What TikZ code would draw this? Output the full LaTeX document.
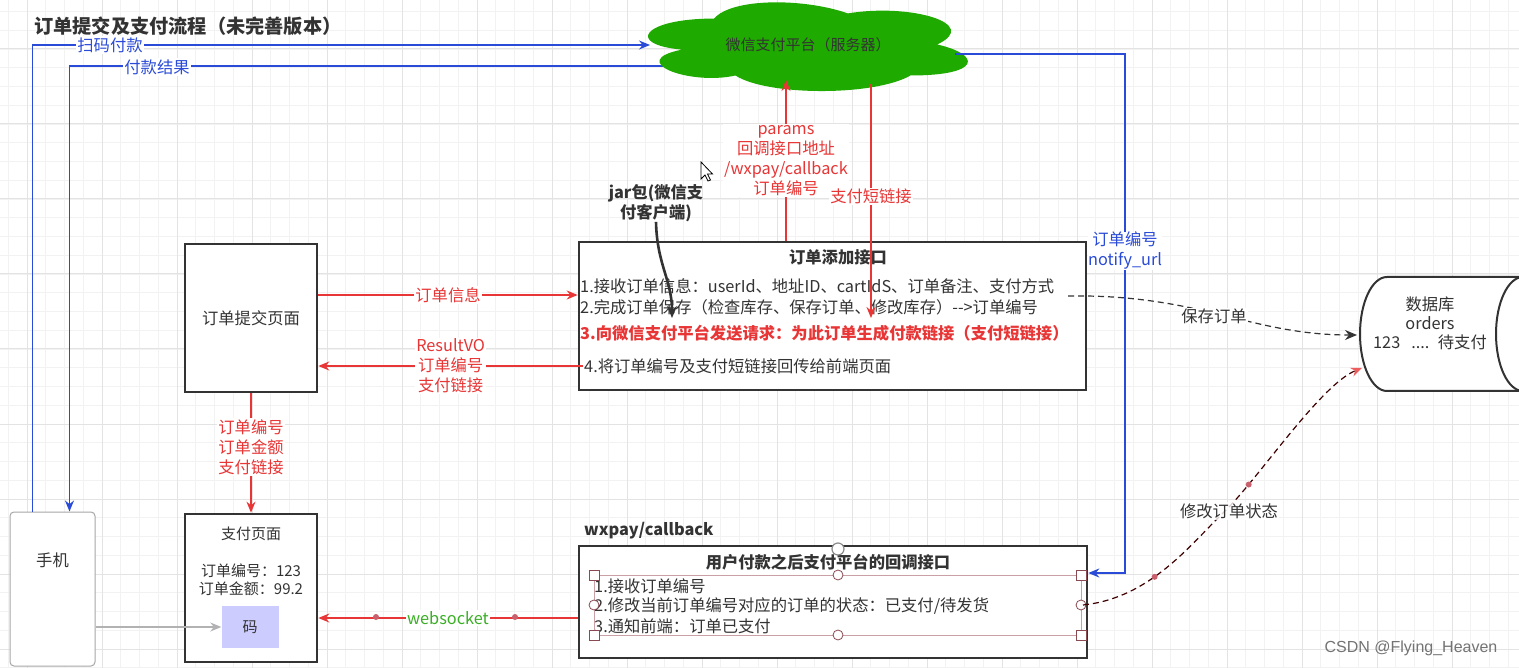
\documentclass[tikz,border=0pt]{standalone}
\usepackage{fontspec}
\setmainfont{Noto Sans CJK SC}
\newfontfamily\wmfont{Liberation Sans}
\usetikzlibrary{arrows.meta,calc}
\definecolor{txt}{HTML}{333333}
\definecolor{rd}{HTML}{E83535}
\definecolor{bl}{HTML}{2A4BD7}
\definecolor{grn}{HTML}{1FAA00}
\definecolor{wsg}{HTML}{3AAF25}
\definecolor{selc}{HTML}{C8A0A6}
\definecolor{hand}{HTML}{8A4A52}
\definecolor{dotc}{HTML}{C8606E}
\definecolor{lav}{HTML}{CCCCFF}
\tikzset{
  f16/.style={font=\fontsize{16.3pt}{20pt}\selectfont},
  f15/.style={font=\fontsize{15pt}{19pt}\selectfont},
  fb16/.style={font=\fontsize{16.3pt}{20pt}\selectfont\bfseries},
  box/.style={draw=txt, line width=2.6pt, fill=white, inner sep=0pt},
  ar/.style={-{Stealth[length=11pt,width=9pt]}},
  rl/.style={draw=rd, line width=1.4pt, ar},
  blu/.style={draw=bl, line width=1.4pt, ar},
  lab/.style={fill=white, inner sep=1pt, align=center, f16},
  txl/.style={anchor=west, inner sep=1pt, text=txt, f16},
  minorg/.style={draw=black!5, line width=0.8pt},
  majorg/.style={draw=black!11, line width=1pt},
}
\begin{document}
\begin{tikzpicture}[x=1pt,y=-1pt]
\useasboundingbox (0,0) rectangle (1519,668);
\fill[white] (0,0) rectangle (1519,668);
% grid
\foreach \i in {0,...,80} \draw[minorg] ({8.25+18.75*\i},0) -- ++(0,668);
\foreach \i in {0,...,35} \draw[minorg] (0,{11.5+18.75*\i}) -- ++(1519,0);
\foreach \i in {0,...,19} \draw[majorg] ({27+75*\i},0) -- ++(0,668);
\foreach \i in {0,...,8} \draw[majorg] (0,{49+75*\i}) -- ++(1519,0);

% title
\node[anchor=west, inner sep=0, text=txt, font=\fontsize{19.2pt}{23pt}\selectfont\bfseries] (title) at (34,26) {订单提交及支付流程（未完善版本）};

% cloud anchor points
\coordinate (c1) at (650,45);
\coordinate (c2) at (700,66);
\coordinate (c3) at (955,54);
\coordinate (cpar) at (786,80);
\coordinate (cshort) at (871,84);

% phone
\node[draw=black!35, line width=1pt, rounded corners=4pt, fill=white, minimum width=85pt, minimum height=154pt, inner sep=0pt] (phone) at (52.5,589) {};
\node[text=txt, f16] (phonet) at (52.5,560) {手机};

% blue connectors (under the cloud)
\coordinate (cbarr) at (1125,573);
\draw[blu] ([xshift=23pt]phone.north west) |- (c1);
\draw[blu] (c2) -| ([xshift=60pt]phone.north west);

% cloud
\begin{scope}[shift={(624.8,-7.3)}, x=357pt, y=-103.5pt]
\fill[grn] (0.25,0.25) .. controls (0.05,0.25) and (0,0.5) .. (0.16,0.55)
  .. controls (0,0.66) and (0.18,0.9) .. (0.31,0.8)
  .. controls (0.4,1) and (0.7,1) .. (0.8,0.8)
  .. controls (1,0.8) and (1,0.6) .. (0.875,0.5)
  .. controls (1,0.3) and (0.8,0.1) .. (0.625,0.2)
  .. controls (0.5,0.05) and (0.3,0.05) .. (0.25,0.25) -- cycle;
\end{scope}
\node[text=txt, f15, inner sep=0] (cloud) at (808,45) {微信支付平台（服务器）};

% order submit page
\node[box, minimum width=132pt, minimum height=148pt, text=txt, f16] (sub) at (251,318) {订单提交页面};

% pay page
\node[box, minimum width=132pt, minimum height=148pt] (pay) at (251,588) {};
\node[text=txt, f15] (payt) at (251,534) {支付页面};
\node[text=txt, f15, align=center] (payinfo) at (251,580) {订单编号：123\\[-1pt]订单金额：99.2};
\node[fill=lav, minimum width=57pt, minimum height=42pt, inner sep=0pt, text=txt, f15] (qr) at (250,627) {码};

% order add interface
\node[box, minimum width=507pt, minimum height=148pt] (api) at (832.5,316) {};
\node[text=txt, fb16, inner sep=0] (apit) at (838,257) {订单添加接口};
\node[txl] (a1) at (579,286) {1.接收订单信息：userId、地址ID、cartIdS、订单备注、支付方式};
\node[txl] (a2) at (579,307) {2.完成订单保存（检查库存、保存订单、修改库存）-{}->订单编号};
\node[txl, text=rd, fb16] (a3) at (579,333) {3.向微信支付平台发送请求：为此订单生成付款链接（支付短链接）};
\node[txl] (a4) at (583,366) {4.将订单编号及支付短链接回传给前端页面};

% callback interface
\node[anchor=west, inner sep=0, text=txt, fb16] (cbname) at (584,531) {wxpay/callback};
\node[box, minimum width=508pt, minimum height=112pt] (cb) at (833,602) {};
\node[text=txt, fb16, inner sep=0] (cbt) at (828,562) {用户付款之后支付平台的回调接口};
\node[txl] (b1) at (593,586) {1.接收订单编号};
\node[txl] (b2) at (593,606) {2.修改当前订单编号对应的订单的状态：已支付/待发货};
\node[txl] (b3) at (593,626) {3.通知前端：订单已支付};
% selection handles
\draw[selc, line width=1pt] (594,575) rectangle (1081,635);
\foreach \p in {(594,575),(1081,575),(594,635),(1081,635)}
  \draw[hand, fill=white, line width=0.8pt] \p ++(-5,-5) rectangle ++(10,10);
\foreach \p in {(838,575),(838,635),(594,605),(1081,605)}
  \draw[hand, fill=white, line width=0.8pt] \p circle (5pt);
\draw[black!45, fill=white, line width=1.2pt] (838,549) circle (6pt);

% database
\draw[txt, line width=2pt, fill=white]
  (1540,277) -- (1387,277) .. controls (1372.1,277) and (1360,302.5) .. (1360,334)
  .. controls (1360,365.5) and (1372.1,391) .. (1387,391) -- (1540,391);
\draw[txt, line width=2pt, fill=white] (1523,334) ellipse [x radius=27pt, y radius=57pt];
\node[text=txt, f16, align=center] (db) at (1430,323) {数据库\\[-1pt]orders\\[-1pt]123 \ \ .... \ 待支付};
\coordinate (dbin1) at (1357,335);
\coordinate (dbin2) at (1362,368);

% notify_url connector
\draw[blu] (c3) -| (cbarr) -- (cb.east |- cbarr);
\node[lab, text=bl] (lscan) at (110,45) {扫码付款};
\node[lab, text=bl] (lres) at (157,67) {付款结果};
\node[lab, text=bl, inner sep=0.5pt] (lnot) at (1125,251) {订单编号\\notify\_url};

% red connectors
\draw[rl] (sub.east |- 0,295) -- node[lab, text=rd] (linfo) {订单信息} (api.west |- 0,295);
\draw[rl] (a4.west) -- node[lab, text=rd] (lres2) {ResultVO\\订单编号\\支付链接} (sub.east |- a4.west);
\draw[rl] (sub.south) -- node[lab, text=rd, pos=0.45] (lpay) {订单编号\\订单金额\\支付链接} (pay.north);
\draw[rl] (api.north -| cpar) -- node[lab, text=rd, pos=0.5] (lpar) {params\\回调接口地址\\/wxpay/callback\\订单编号} (cpar);
\coordinate (shortend) at (871,318);
\draw[rl] (cshort) -- node[lab, text=rd, pos=0.48] (lshort) {支付短链接} (shortend);

% websocket
\draw[rl] (cb.west |- 0,618) -- node[lab, text=wsg] (lws) {websocket} (pay.east |- 0,618);
\fill[dotc] (376,617) circle (3pt) (515,617) circle (3pt);

% phone -> qr
\draw[draw=black!30, line width=1.2pt, -{Stealth[length=11pt,width=9pt]}] (phone.east |- qr) -- (qr.west);

% jar arrow
\node[text=txt, fb16, align=center, inner sep=0] (jar) at (656,203) {jar包(微信支\\付客户端)};
\coordinate (jarend) at (672,318);
\draw[txt, line width=2.6pt, -{Stealth[length=12pt,width=10pt]}] (jar.south) .. controls (657,265) and (672,280) .. (jarend);

% dashed curves
\draw[txt, line width=1.2pt, dash pattern=on 6pt off 4pt, -{Stealth[length=12pt,width=10pt]}]
  (1068,296) .. controls (1200,294) and (1250,335) .. (dbin1);
\node[lab, text=txt] (lsave) at (1214,316) {保存订单};
\coordinate (cbout) at (1083,605);
\draw[draw=black!75!red, line width=1.2pt, dash pattern=on 6pt off 4pt, -{Stealth[length=11pt,width=9pt,color=rd!80,fill=rd!80]}]
  (cbout) .. controls (1150,598) and (1190,545) .. coordinate[pos=0.42] (d1) (1223,513)
  .. controls (1256,482) and (1320,385) .. coordinate[pos=0.22] (d2) (dbin2);
\fill[dotc] (d1) circle (3pt) (d2) circle (3pt);
\node[lab, text=txt, fill=white, fill opacity=0.8, text opacity=1] (lmod) at (1229,511) {修改订单状态};

% cursor
\draw[black, fill=white, line width=0.8pt, shift={(701,162)}] (0,0) -- (0,17) -- (4,13) -- (7,19) -- (9.5,18) -- (6.5,12) -- (11.5,12) -- cycle;

% watermark
\node[text=black!55, font=\wmfont\fontsize{16pt}{20pt}\selectfont, inner sep=0] (wm) at (1411,648) {CSDN @Flying\_Heaven};
\end{tikzpicture}
\end{document}
